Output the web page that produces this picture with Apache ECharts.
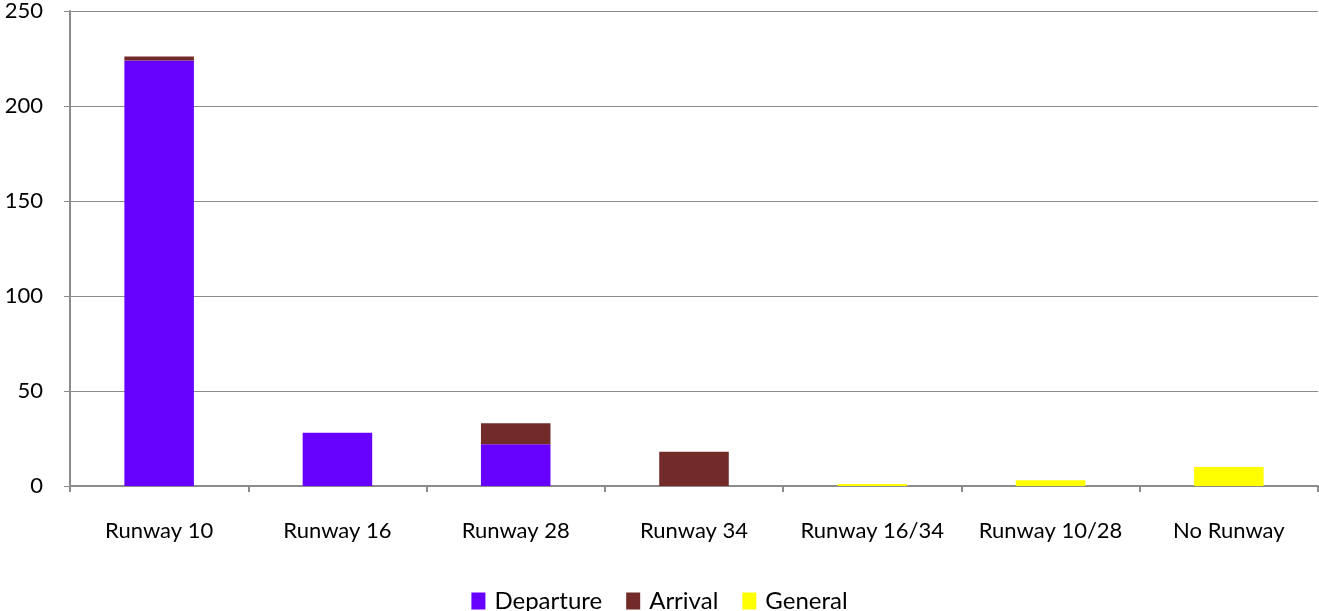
<!DOCTYPE html>
<html><head><meta charset="utf-8">
<script src="https://cdn.jsdelivr.net/npm/echarts@6/dist/echarts.min.js"></script>
<style>html,body{margin:0;padding:0;background:#fff}#c{width:1319px;height:611px}</style>
</head><body><div id="c"></div>
<script>
const categories = ['Runway 10','Runway 16','Runway 28','Runway 34','Runway 16/34','Runway 10/28','No Runway'];
const departure = [224, 28, 22, 0, 0, 0, 0];
const arrival = [2, 0, 11, 18, 0, 0, 0];
const general = [0, 0, 0, 0, 1, 3, 10];
const yTicks = [0, 50, 100, 150, 200, 250];

const font = 'Lato, "Open Sans", sans-serif';
const chart = echarts.init(document.getElementById('c'));
const mk = (name, data, color) => ({
  name, type: 'bar', stack: 'a', data, barWidth: '39%',
  itemStyle: { color }, emphasis: { disabled: true }
});
chart.setOption({
  animation: false,
  grid: { left: 70, right: 1, top: 11, bottom: 125, containLabel: false },
  legend: {
    top: 584, left: 'center', itemWidth: 14, itemHeight: 17, itemGap: 24,
    icon: 'rect',
    textStyle: { fontFamily: font, fontSize: 24, lineHeight: 24, color: '#000', padding: [0, 0, 0, 4] },
    data: ['Departure', 'Arrival', 'General']
  },
  xAxis: {
    type: 'category', data: categories,
    axisLine: { lineStyle: { color: '#8c8c8c', width: 2 } },
    axisTick: { show: true, interval: 0, length: 6, lineStyle: { color: '#8c8c8c', width: 2 } },
    axisLabel: { interval: 0, fontFamily: font, fontSize: 22, color: '#000', margin: 34 }
  },
  yAxis: {
    type: 'value', min: 0, max: yTicks[yTicks.length - 1], interval: 50,
    axisLine: { show: true, lineStyle: { color: '#8c8c8c', width: 2 } },
    axisTick: { show: true, length: 6, lineStyle: { color: '#8c8c8c', width: 1 } },
    axisLabel: { fontFamily: font, fontSize: 22, color: '#000', margin: 27 },
    splitLine: { lineStyle: { color: '#8c8c8c', width: 1 } }
  },
  series: [
    mk('Departure', departure, '#6600ff'),
    mk('Arrival', arrival, '#722b29'),
    mk('General', general, '#ffff00')
  ]
});
</script></body></html>
